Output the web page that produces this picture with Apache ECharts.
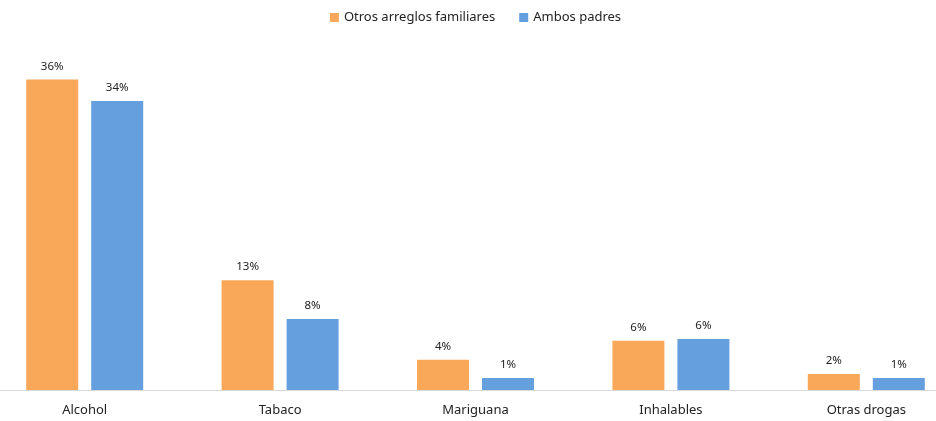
<!DOCTYPE html>
<html><head><meta charset="utf-8">
<script src="https://cdn.jsdelivr.net/npm/echarts@6/dist/echarts.min.js"></script>
<style>html,body{margin:0;padding:0;background:#fff;overflow:hidden;width:936px;height:421px}#c{position:absolute;left:-13px;top:0;width:977px;height:421px}</style>
</head><body><div id="c"></div>
<script>
const categories = ['Alcohol','Tabaco','Mariguana','Inhalables','Otras drogas'];
const seriesNames = ['Otros arreglos familiares','Ambos padres'];
const otros = [35.9, 12.7, 3.5, 5.7, 1.85];
const ambos = [33.4, 8.2, 1.4, 5.9, 1.4];
const otrosLabels = ['36%','13%','4%','6%','2%'];
const ambosLabels = ['34%','8%','1%','6%','1%'];
const colors = ['#F8A858','#659FDD'];
const font = 'Noto Sans, sans-serif';
const chart = echarts.init(document.getElementById('c'));
const mkLbl = arr => ({show:true, position:'top', distance:7, color:'#222', fontSize:11.5, fontFamily:font,
  formatter: p => arr[p.dataIndex]});
chart.setOption({
  animation:false,
  textStyle:{fontFamily:font},
  legend:{top:6, left:'center', itemWidth:9, itemHeight:9, itemGap:24, icon:'rect',
    textStyle:{fontSize:13, color:'#222', fontFamily:font}},
  grid:{left:0, right:0, top:44, bottom:31, containLabel:false},
  xAxis:{type:'category', data:categories,
    axisLine:{lineStyle:{color:'#d9d9d9', width:1}}, axisTick:{show:false},
    axisLabel:{color:'#222', fontSize:13, margin:14, fontFamily:font}},
  yAxis:{type:'value', min:0, max:40, show:false, splitLine:{show:false}},
  series:[
    {name:seriesNames[0], type:'bar', data:otros, barWidth:52, barGap:'25%', itemStyle:{color:colors[0]}, label:mkLbl(otrosLabels)},
    {name:seriesNames[1], type:'bar', data:ambos, barWidth:52, barGap:'25%', itemStyle:{color:colors[1]}, label:mkLbl(ambosLabels)}
  ]
});
</script></body></html>
